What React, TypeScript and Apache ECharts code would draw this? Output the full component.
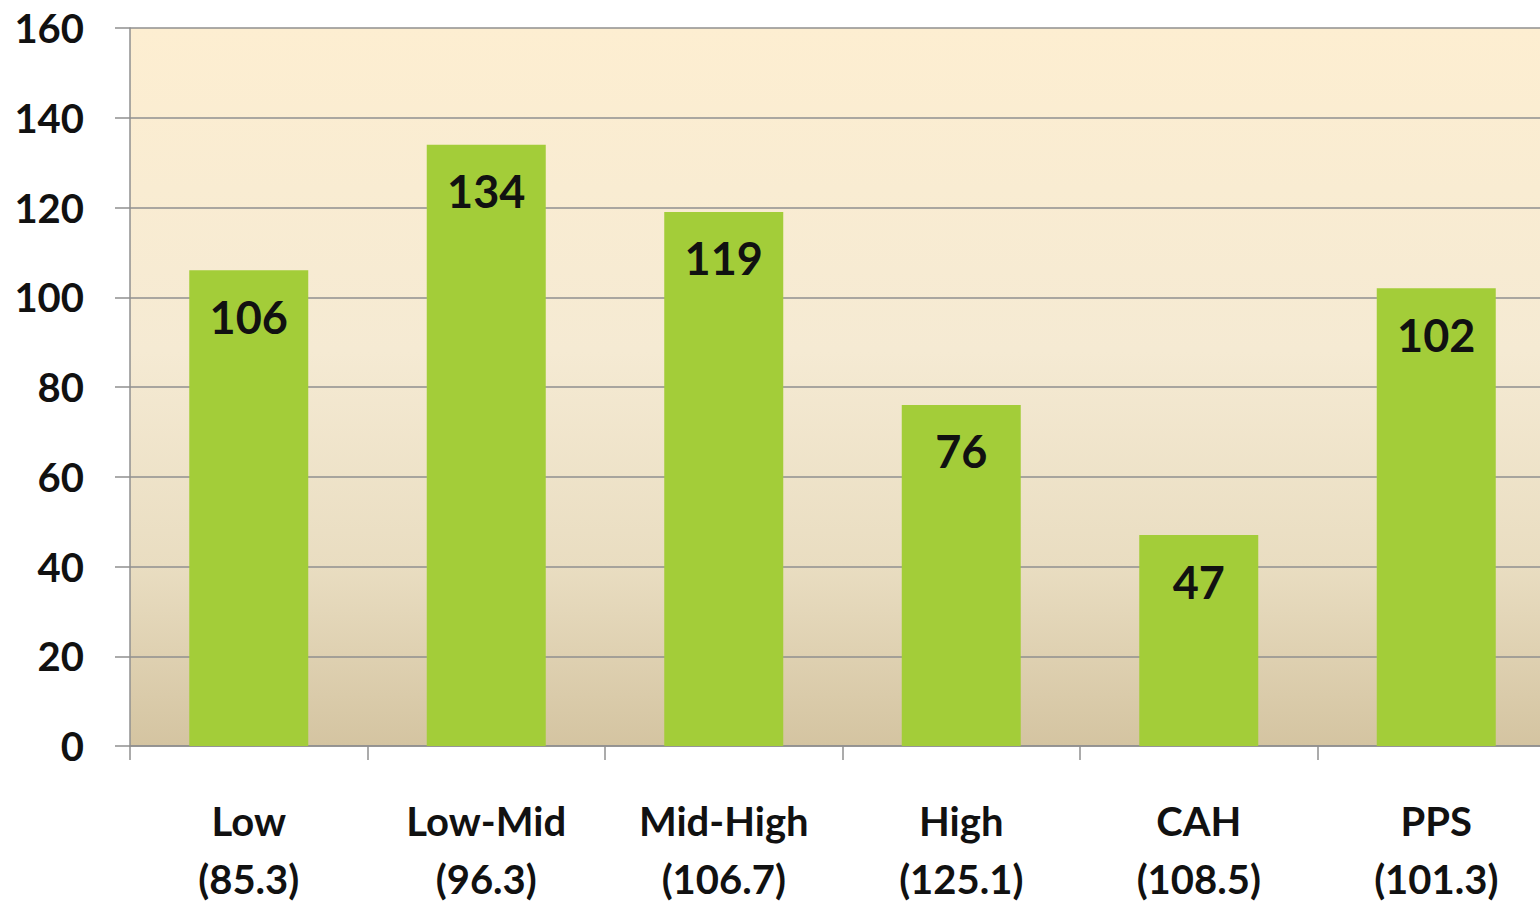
import React, { useEffect, useRef } from "react";
import * as echarts from "echarts";

const categories = ["Low\n(85.3)", "Low-Mid\n(96.3)", "Mid-High\n(106.7)", "High\n(125.1)", "CAH\n(108.5)", "PPS\n(101.3)"];
const values = [106, 134, 119, 76, 47, 102];
const yTicks = { min: 0, max: 160, interval: 20 };

const FONT = "Lato, 'Open Sans', sans-serif";
const AXIS_GRAY = "#8f8f8f";

export default function App() {
  const ref = useRef<HTMLDivElement>(null);

  useEffect(() => {
    if (!ref.current) return;
    const chart = echarts.init(ref.current, undefined, { renderer: "svg" });
    chart.setOption({
      animation: false,
      grid: {
        left: 130,
        top: 28,
        bottom: 158,
        right: -15,
        outerBoundsMode: "none",
        containLabel: false,
        show: true,
        borderWidth: 0,
        backgroundColor: new echarts.graphic.LinearGradient(0, 0, 0, 1, [
          { offset: 0, color: "#fdeed1" },
          { offset: 0.45, color: "#f5ead3" },
          { offset: 0.75, color: "#e9ddc1" },
          { offset: 1, color: "#d4c4a1" },
        ]),
      },
      xAxis: {
        type: "category",
        data: categories,
        axisLine: { show: true, lineStyle: { color: AXIS_GRAY, width: 1.5 } },
        axisTick: { show: true, alignWithLabel: false, length: 14, lineStyle: { color: AXIS_GRAY, width: 1.5 } },
        axisLabel: {
          color: "#111",
          fontFamily: FONT,
          fontWeight: "bold",
          fontSize: 40,
          lineHeight: 58,
          margin: 46,
        },
      },
      yAxis: {
        type: "value",
        min: yTicks.min,
        max: yTicks.max,
        interval: yTicks.interval,
        axisLine: { show: true, lineStyle: { color: AXIS_GRAY, width: 1.5 } },
        axisTick: { show: true, length: 15, lineStyle: { color: AXIS_GRAY, width: 1.5 } },
        splitLine: { show: true, lineStyle: { color: AXIS_GRAY, width: 1.5 } },
        axisLabel: {
          color: "#111",
          fontFamily: FONT,
          fontWeight: "bold",
          fontSize: 40,
          margin: 46,
        },
      },
      series: [
        {
          type: "bar",
          data: values,
          barWidth: 119,
          itemStyle: { color: "#a3cd39" },
          label: {
            show: true,
            position: "insideTop",
            distance: 24,
            color: "#111",
            fontFamily: FONT,
            fontWeight: "bold",
            fontSize: 45,
          },
        },
      ],
    });
    return () => chart.dispose();
  }, []);

  return (
    <div
      ref={ref}
      style={{ position: "fixed", left: 0, top: 0, width: 1540, height: 904, background: "#fff" }}
    />
  );
}
